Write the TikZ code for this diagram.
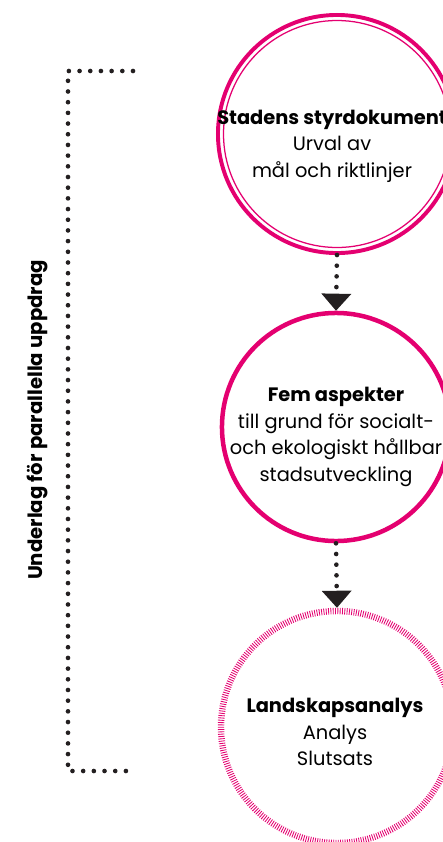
\documentclass[tikz,border=0pt]{standalone}
\usepackage{fontspec}
\setmainfont{Poppins}
\usetikzlibrary{arrows.meta}
\definecolor{rosa}{RGB}{228,0,112}
\definecolor{mork}{RGB}{35,31,32}

\begin{document}
\begin{tikzpicture}[x=0.025cm,y=-0.025cm,
  ring/.style={circle,draw=rosa,inner sep=0pt},
  txt/.style={align=center,font=\fontsize{13.8}{18.8}\selectfont},
  prickar/.style={draw=mork,line width=3.3pt,line cap=round,dash pattern=on 0pt off 7.6pt},
  flode/.style={prickar,-{Triangle[width=21.3pt,length=12.1pt,line width=0pt,fill=mork]}}]
  \useasboundingbox (0,0) rectangle (442,842);
  % Kretsar
  \node[ring,line width=2.8pt,minimum size=169.3pt] (styr) at (337,134) {};
  \draw[rosa,line width=0.9pt] (styr.center) circle[radius=113.5];
  \node[ring,line width=3.2pt,minimum size=162.2pt] (fem) at (336,427) {};
  \node[ring,line width=4.6pt,dash pattern=on 0.6pt off 1.05pt,minimum size=165pt] (land) at (337,727) {};
  % Texter
  \node[txt] (styrtext) at (332,146) {\textbf{Stadens styrdokument}\\Urval av\\mål och riktlinjer};
  \node[txt] (femtext) at (336,437) {\textbf{Fem aspekter}\\till grund för socialt-\\och ekologiskt hållbar\\stadsutveckling};
  \node[txt] (landtext) at (335,732) {\textbf{Landskapsanalys}\\Analys\\Slutsats};
  % Pilar
  \draw[flode] (styr.south) -- (fem.north);
  \draw[flode] (fem.south) -- (land.north);
  % Klammer
  \coordinate (ovre) at (133,71);
  \coordinate (hornuppe) at (68,71);
  \coordinate (hornnere) at (68,771);
  \coordinate (nedre) at (133,771);
  \draw[prickar] (ovre) -- (hornuppe) -- (hornnere) -- (nedre);
  \node[rotate=90,font=\bfseries\fontsize{14}{16}\selectfont] (underlag) at (37,420) {Underlag för parallella uppdrag};
\end{tikzpicture}
\end{document}
